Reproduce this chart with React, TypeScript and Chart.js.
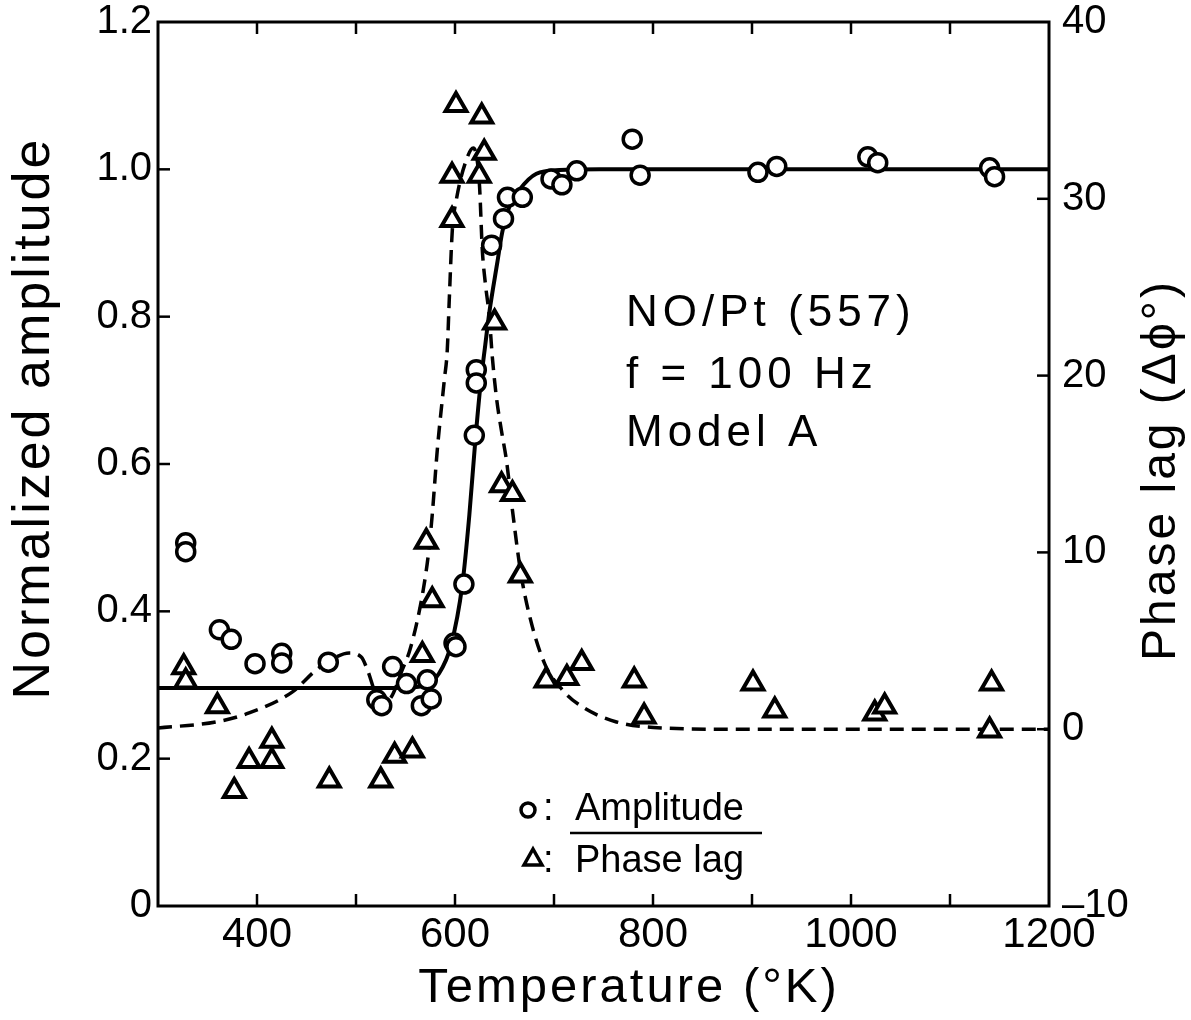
import React, { useEffect, useRef } from 'react';
import { Chart, registerables } from 'chart.js';

Chart.register(...registerables);

const FONT = '"Liberation Sans", "DejaVu Sans", Arial, sans-serif';

// Measured amplitude (circles)
const ampTemps = [328, 328, 362, 374, 398, 425, 425, 472, 521, 526, 537, 551, 566, 572, 576, 599, 601, 609, 619.5, 621.5, 621.5, 637, 649, 653, 668, 697, 708, 723, 779, 787, 906, 925, 1017, 1027, 1140, 1145];
const ampValues = [0.493, 0.481, 0.375, 0.362, 0.329, 0.343, 0.330, 0.331, 0.280, 0.272, 0.325, 0.302, 0.272, 0.307, 0.281, 0.357, 0.352, 0.437, 0.639, 0.728, 0.710, 0.897, 0.933, 0.962, 0.962, 0.987, 0.979, 0.998, 1.041, 0.992, 0.996, 1.004, 1.017, 1.009, 1.002, 0.990];

// Measured phase lag (triangles)
const phaseTemps = [326, 328, 360, 377, 392, 415, 415, 473, 525, 539, 557, 567, 571, 577, 597, 597, 601, 624.5, 627, 629.5, 640, 647, 658, 666, 692, 713, 728, 781, 791, 901, 923, 1024, 1034, 1142, 1140];
const phaseValues = [3.5, 2.7, 1.3, -3.5, -1.8, -1.8, -0.65, -2.9, -2.9, -1.5, -1.2, 4.2, 10.6, 7.3, 28.8, 31.3, 35.3, 31.3, 34.65, 32.6, 23.0, 13.8, 13.3, 8.7, 2.75, 2.9, 3.75, 2.75, 0.72, 2.58, 1.06, 0.89, 1.28, 2.58, -0.08];

// Model A amplitude curve (solid)
const ampCurveTemps = [300, 538.6, 569, 584, 596, 607.4, 614.5, 620.6, 625.7, 630.6, 634.7, 642.8, 647.8, 654.9, 665, 682.2, 705.5, 746, 1200];
const ampCurveValues = [0.296, 0.296, 0.299, 0.316, 0.354, 0.436, 0.531, 0.633, 0.707, 0.762, 0.806, 0.874, 0.915, 0.949, 0.972, 0.994, 0.999, 1.0, 1.0];

// Model A phase curve (dashed)
const phaseCurveTemps = [300, 358.6, 392, 435.5, 459.8, 478, 493.1, 505.3, 512.3, 518.4, 525.5, 535.6, 546.7, 553.8, 560.9, 567.9, 573, 577, 582.1, 589.2, 592.2, 594.2, 597.3, 601.3, 611.4, 618.5, 624.6, 627.6, 630.6, 634.7, 637.7, 641.8, 646.8, 651.9, 658, 666, 675.1, 690.3, 708.5, 728.7, 763.1, 809.6, 877.4, 1200];
const phaseCurveValues = [0.07, 0.41, 0.92, 2.10, 3.35, 4.03, 4.31, 4.08, 3.24, 2.22, 1.48, 1.82, 3.35, 4.37, 5.89, 7.87, 9.85, 12.12, 15.79, 19.75, 21.45, 24.28, 28.24, 29.93, 32.19, 32.87, 30.89, 27.10, 25.24, 23.31, 21.05, 18.79, 16.92, 15.23, 12.40, 9.00, 6.46, 3.74, 2.22, 1.26, 0.41, 0.07, 0.0, 0.0];

const xLabelValues = [400, 600, 800, 1000, 1200];

const annotationLines = ['NO/Pt (557)', 'f = 100 Hz', 'Model A'];
const legendLabels = ['Amplitude', 'Phase lag'];
const xTitle = 'Temperature (°K)';
const yTitle = 'Normalized amplitude';
const y2Title = 'Phase lag (Δϕ°)';

const zip = (xs: number[], ys: number[]) => xs.map((x, i) => ({ x, y: ys[i] }));

const frameTicks = {
  id: 'frameTicks',
  afterDatasetsDraw(chart: any) {
    const { ctx, chartArea: a, scales } = chart;
    ctx.save();
    ctx.strokeStyle = '#000';
    ctx.lineWidth = 3;
    ctx.strokeRect(a.left, a.top, a.right - a.left, a.bottom - a.top);
    ctx.lineWidth = 2.5;
    const L = 12;
    const seg = (x1: number, y1: number, x2: number, y2: number) => {
      ctx.beginPath();
      ctx.moveTo(x1, y1);
      ctx.lineTo(x2, y2);
      ctx.stroke();
    };
    scales.x.ticks.forEach((t: any) => {
      if (t.value <= scales.x.min || t.value >= scales.x.max) return;
      const px = scales.x.getPixelForValue(t.value);
      seg(px, a.bottom, px, a.bottom - L);
      seg(px, a.top, px, a.top + L);
    });
    scales.y.ticks.forEach((t: any) => {
      if (t.value <= scales.y.min || t.value >= scales.y.max) return;
      const py = scales.y.getPixelForValue(t.value);
      seg(a.left, py, a.left + L, py);
    });
    scales.y2.ticks.forEach((t: any) => {
      if (t.value <= scales.y2.min || t.value >= scales.y2.max) return;
      const py = scales.y2.getPixelForValue(t.value);
      seg(a.right, py, a.right - L, py);
    });
    ctx.restore();
  },
};

const textLayer = {
  id: 'textLayer',
  afterDraw(chart: any) {
    const { ctx } = chart;
    ctx.save();
    ctx.fillStyle = '#000';
    ctx.strokeStyle = '#000';

    // axis titles
    ctx.letterSpacing = '3px';
    ctx.textAlign = 'center';
    ctx.textBaseline = 'middle';
    ctx.font = `52px ${FONT}`;
    ctx.save();
    ctx.translate(35, 418);
    ctx.rotate(-Math.PI / 2);
    ctx.fillText(yTitle, 0, 0);
    ctx.restore();

    ctx.save();
    ctx.font = `48px ${FONT}`;
    ctx.translate(1162, 470);
    ctx.rotate(-Math.PI / 2);
    ctx.fillText(y2Title, 0, 0);
    ctx.restore();

    ctx.font = `49px ${FONT}`;
    ctx.fillText(xTitle, 629, 988);

    // annotation
    ctx.letterSpacing = '5px';
    ctx.textAlign = 'left';
    ctx.textBaseline = 'alphabetic';
    ctx.font = `44px ${FONT}`;
    const baselines = [326, 388, 446];
    annotationLines.forEach((s, i) => ctx.fillText(s, 626, baselines[i]));

    // legend
    ctx.letterSpacing = '0px';
    ctx.font = `38px ${FONT}`;
    ctx.fillText(':', 543, 820);
    ctx.fillText(':', 543, 872);
    ctx.fillText(legendLabels[0], 575, 820);
    ctx.fillText(legendLabels[1], 575, 872);
    ctx.lineWidth = 3.5;
    ctx.beginPath();
    ctx.arc(528, 810, 7, 0, Math.PI * 2);
    ctx.stroke();
    ctx.beginPath();
    ctx.moveTo(533, 849);
    ctx.lineTo(542, 865);
    ctx.lineTo(524, 865);
    ctx.closePath();
    ctx.stroke();
    ctx.lineWidth = 2.5;
    ctx.beginPath();
    ctx.moveTo(570, 833);
    ctx.lineTo(762, 833);
    ctx.stroke();
    ctx.restore();
  },
};

export default function App() {
  const canvasRef = useRef<HTMLCanvasElement | null>(null);

  useEffect(() => {
    const canvas = canvasRef.current;
    if (!canvas) return;
    const chart = new Chart(canvas, {
      type: 'line',
      data: {
        datasets: [
          {
            label: 'Amplitude',
            data: zip(ampTemps, ampValues),
            yAxisID: 'y',
            showLine: false,
            pointStyle: 'circle',
            pointRadius: 9,
            pointHoverRadius: 9,
            pointBorderWidth: 3.5,
            pointBorderColor: '#000',
            pointBackgroundColor: '#fff',
            borderColor: '#000',
          },
          {
            label: 'Phase lag',
            data: zip(phaseTemps, phaseValues),
            yAxisID: 'y2',
            showLine: false,
            pointStyle: 'triangle',
            pointRadius: 12,
            pointHoverRadius: 12,
            pointBorderWidth: 4,
            pointBorderColor: '#000',
            pointBackgroundColor: '#fff',
            borderColor: '#000',
          },
          {
            label: 'Amplitude model',
            data: zip(ampCurveTemps, ampCurveValues),
            yAxisID: 'y',
            borderColor: '#000',
            borderWidth: 4,
            pointRadius: 0,
            pointHoverRadius: 0,
            fill: false,
            cubicInterpolationMode: 'monotone',
          },
          {
            label: 'Phase model',
            data: zip(phaseCurveTemps, phaseCurveValues),
            yAxisID: 'y2',
            borderColor: '#000',
            borderWidth: 3.5,
            borderDash: [14, 8],
            pointRadius: 0,
            pointHoverRadius: 0,
            fill: false,
            cubicInterpolationMode: 'monotone',
          },
        ],
      },
      options: {
        responsive: false,
        animation: false,
        events: [],
        layout: { padding: { top: 22, left: 0, right: 0, bottom: 0 } },
        plugins: { legend: { display: false }, tooltip: { enabled: false } },
        scales: {
          x: {
            type: 'linear',
            min: 300,
            max: 1200,
            grid: { display: false, drawTicks: false },
            border: { display: false },
            ticks: {
              stepSize: 100,
              autoSkip: false,
              maxRotation: 0,
              padding: 8,
              color: '#000',
              font: { family: FONT, size: 42, lineHeight: 1 },
              callback: (v: any) => (xLabelValues.includes(Number(v)) ? String(v) : ''),
            },
            afterFit: (s: any) => { s.height = 114; },
          },
          y: {
            type: 'linear',
            position: 'left',
            min: 0,
            max: 1.2,
            grid: { display: false, drawTicks: false },
            border: { display: false },
            ticks: {
              stepSize: 0.2,
              padding: 6,
              color: '#000',
              font: { family: FONT, size: 40, lineHeight: 0.3 },
              callback: (v: any) => (Math.abs(Number(v)) < 1e-9 ? '0' : Number(v).toFixed(1)),
            },
            afterFit: (s: any) => { s.width = 158; },
          },
          y2: {
            type: 'linear',
            position: 'right',
            min: -10,
            max: 40,
            grid: { display: false, drawTicks: false },
            border: { display: false },
            ticks: {
              stepSize: 10,
              padding: 13,
              color: '#000',
              font: { family: FONT, size: 40, lineHeight: 0.3 },
              callback: (v: any) => (Number(v) < 0 ? '–' + Math.abs(Number(v)) : String(v)),
            },
            afterFit: (s: any) => { s.width = 142; },
          },
        },
      },
      plugins: [frameTicks, textLayer],
    } as any);
    return () => chart.destroy();
  }, []);

  return (
    <div style={{ position: 'absolute', left: 0, top: 0, width: 1191, height: 1020, background: '#fff' }}>
      <canvas ref={canvasRef} width={1191} height={1020} style={{ width: 1191, height: 1020, display: 'block' }} />
    </div>
  );
}
